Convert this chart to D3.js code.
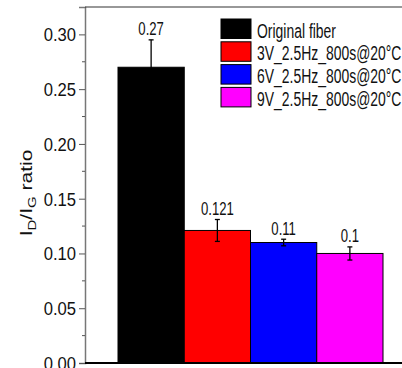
<!DOCTYPE html>
<html><head><meta charset="utf-8">
<script src="https://cdn.jsdelivr.net/npm/d3@7"></script>
<style>body{margin:0;background:#fff}svg{display:block}text{font-family:'Liberation Sans',Arial,sans-serif}</style>
</head><body><svg id="c" width="402" height="368"></svg>
<script>
const categories = ["Original fiber","3V_2.5Hz_800s@20°C","6V_2.5Hz_800s@20°C","9V_2.5Hz_800s@20°C"];
const values = [0.27, 0.121, 0.11, 0.1];
const errors = [0.025, 0.01, 0.003, 0.006];
const labels = ["0.27","0.121","0.11","0.1"];
const colors = ["#000000","#ff0000","#0000ff","#ff00ff"];
const yTicks = [0, 0.05, 0.10, 0.15, 0.20, 0.25, 0.30];
const yMinorTicks = [0.025, 0.075, 0.125, 0.175, 0.225, 0.275];

const svg = d3.select("#c");
const x0 = 85, yTop = 7, yBot = 363;
const y = d3.scaleLinear().domain([0, 0.325]).range([yBot, yTop]);
const x = d3.scaleBand().domain(categories).range([118, 383]).paddingInner(0).paddingOuter(0);

// horizontally condensed text helper
function ctext(parent, px, py, str, size, sx, anchor) {
  const g = parent.append("g").attr("transform", `translate(${px},${py}) scale(${sx},1)`);
  return g.append("text").attr("x", 0).attr("y", 0).attr("font-size", size)
    .attr("text-anchor", anchor || "start").attr("fill", "#111").text(str);
}

// bars
svg.selectAll("rect.bar").data(categories).join("rect").attr("class", "bar")
  .attr("x", d => x(d)).attr("width", x.bandwidth())
  .attr("y", (d,i) => y(values[i])).attr("height", (d,i) => y(0) - y(values[i]))
  .attr("fill", (d,i) => colors[i]).attr("stroke", "#000").attr("stroke-width", 1);

// error bars + value labels
const eg = svg.append("g").attr("stroke", "#000").attr("stroke-width", 1.3);
categories.forEach((c,i) => {
  const cx = x(c) + x.bandwidth()/2;
  const t = y(values[i] + errors[i]), b = y(values[i] - errors[i]);
  eg.append("line").attr("x1", cx).attr("x2", cx).attr("y1", t).attr("y2", b);
  eg.append("line").attr("x1", cx-2.5).attr("x2", cx+2.5).attr("y1", t).attr("y2", t);
  eg.append("line").attr("x1", cx-2.5).attr("x2", cx+2.5).attr("y1", b).attr("y2", b);
  ctext(svg, cx, t - 4.5, labels[i], 18, 0.73, "middle");
});

// y axis
const ya = svg.append("g").attr("transform", `translate(${x0},0)`)
  .call(d3.axisLeft(y).tickValues(yTicks).tickFormat(d3.format(".2f")).tickSize(6).tickPadding(2));
ya.select(".domain").attr("stroke", "#777").attr("stroke-width", 1.5);
ya.selectAll(".tick line").attr("stroke", "#555").attr("stroke-width", 1);
ya.selectAll(".tick text").remove();
ya.selectAll(".tick").each(function(d) {
  ctext(d3.select(this), -9, 6.5, d3.format(".2f")(d), 18.5, 0.9, "end");
});
svg.append("g").selectAll("line").data(yMinorTicks).join("line")
  .attr("x1", x0-3).attr("x2", x0).attr("y1", d => y(d)).attr("y2", d => y(d))
  .attr("stroke", "#555").attr("stroke-width", 1);

// top and bottom frame
svg.append("line").attr("x1", x0).attr("x2", 402).attr("y1", yTop).attr("y2", yTop)
  .attr("stroke", "#333").attr("stroke-width", 1.2);
svg.append("line").attr("x1", x0).attr("x2", 402).attr("y1", yBot).attr("y2", yBot)
  .attr("stroke", "#000").attr("stroke-width", 2);

// y label
const yl = svg.append("g").attr("transform", "translate(32,193) scale(0.78,1) rotate(-90)")
  .append("text").attr("text-anchor", "middle").attr("font-size", 21).attr("fill", "#111");
yl.append("tspan").text("I");
yl.append("tspan").attr("font-size", 15).attr("dy", 5).text("D");
yl.append("tspan").attr("dy", -5).text("/I");
yl.append("tspan").attr("font-size", 15).attr("dy", 5).text("G");
yl.append("tspan").attr("dy", -5).text(" ratio");

// legend
const lg = svg.append("g");
categories.forEach((c,i) => {
  const ly = 19 + i*22.8;
  lg.append("rect").attr("x", 221).attr("y", ly).attr("width", 30).attr("height", 19.5)
    .attr("fill", colors[i]).attr("stroke", "#000").attr("stroke-width", 1);
  ctext(lg, 257, ly + 18.5, c, 19.5, 0.715, "start");
});
</script></body></html>
